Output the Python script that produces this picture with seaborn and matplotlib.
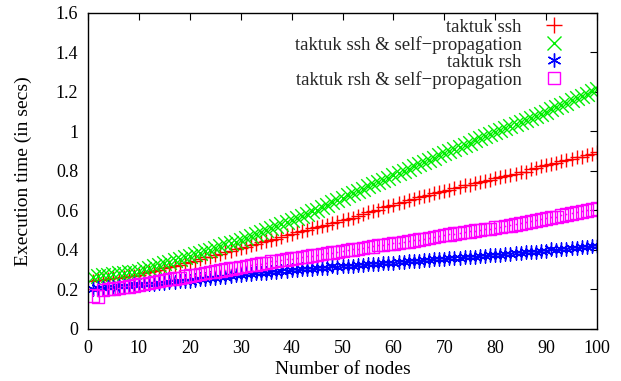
import matplotlib
matplotlib.use("Agg")
import matplotlib.pyplot as plt
import pandas as pd
import seaborn as sns
from matplotlib.lines import Line2D
from matplotlib.ticker import FuncFormatter

nodes = list(range(1, 101))

ssh = [0.245, 0.248, 0.250, 0.253, 0.257, 0.259, 0.262, 0.266, 0.270, 0.275,
       0.281, 0.287, 0.294, 0.300, 0.307, 0.313, 0.320, 0.326, 0.333, 0.340,
       0.346, 0.354, 0.366, 0.367, 0.375, 0.382, 0.388, 0.396, 0.403, 0.410,
       0.417, 0.424, 0.432, 0.439, 0.446, 0.453, 0.457, 0.468, 0.475, 0.482,
       0.490, 0.496, 0.503, 0.509, 0.516, 0.523, 0.529, 0.536, 0.543, 0.550,
       0.558, 0.561, 0.574, 0.582, 0.590, 0.597, 0.605, 0.617, 0.621, 0.629,
       0.637, 0.645, 0.652, 0.659, 0.666, 0.673, 0.680, 0.687, 0.694, 0.700,
       0.706, 0.713, 0.719, 0.729, 0.731, 0.737, 0.744, 0.750, 0.756, 0.762,
       0.768, 0.774, 0.780, 0.787, 0.794, 0.797, 0.808, 0.816, 0.823, 0.830,
       0.836, 0.843, 0.853, 0.856, 0.862, 0.869, 0.872, 0.882, 0.888, 0.895]

ssh_self = [0.265, 0.268, 0.272, 0.275, 0.278, 0.281, 0.285, 0.288, 0.291, 0.295,
            0.302, 0.310, 0.317, 0.322, 0.332, 0.340, 0.347, 0.355, 0.362, 0.370,
            0.378, 0.386, 0.394, 0.402, 0.410, 0.418, 0.430, 0.434, 0.442, 0.450,
            0.460, 0.470, 0.480, 0.490, 0.500, 0.510, 0.520, 0.530, 0.540, 0.550,
            0.560, 0.572, 0.583, 0.595, 0.604, 0.618, 0.630, 0.642, 0.653, 0.665,
            0.676, 0.688, 0.699, 0.711, 0.722, 0.733, 0.745, 0.756, 0.767, 0.779,
            0.790, 0.801, 0.812, 0.823, 0.834, 0.848, 0.857, 0.868, 0.879, 0.890,
            0.901, 0.912, 0.922, 0.933, 0.944, 0.955, 0.965, 0.976, 0.987, 0.998,
            1.008, 1.019, 1.030, 1.040, 1.050, 1.060, 1.070, 1.077, 1.090, 1.100,
            1.112, 1.123, 1.135, 1.146, 1.158, 1.169, 1.181, 1.192, 1.204, 1.215]

rsh = [0.205, 0.207, 0.209, 0.211, 0.213, 0.216, 0.218, 0.220, 0.226, 0.224,
       0.226, 0.228, 0.230, 0.232, 0.235, 0.237, 0.239, 0.241, 0.243, 0.245,
       0.248, 0.251, 0.254, 0.257, 0.260, 0.263, 0.262, 0.269, 0.272, 0.275,
       0.277, 0.280, 0.282, 0.284, 0.286, 0.289, 0.291, 0.293, 0.296, 0.298,
       0.300, 0.302, 0.304, 0.306, 0.308, 0.310, 0.311, 0.317, 0.315, 0.317,
       0.319, 0.321, 0.323, 0.325, 0.327, 0.329, 0.330, 0.332, 0.334, 0.336,
       0.338, 0.340, 0.342, 0.344, 0.346, 0.348, 0.350, 0.352, 0.354, 0.356,
       0.358, 0.360, 0.358, 0.364, 0.366, 0.367, 0.369, 0.371, 0.373, 0.375,
       0.377, 0.379, 0.380, 0.383, 0.385, 0.388, 0.390, 0.392, 0.395, 0.397,
       0.403, 0.402, 0.404, 0.406, 0.409, 0.411, 0.413, 0.416, 0.418, 0.420]

rsh_self = [0.170, 0.165, 0.197, 0.202, 0.205, 0.209, 0.212, 0.216, 0.220, 0.225,
            0.229, 0.234, 0.238, 0.243, 0.247, 0.252, 0.256, 0.258, 0.265, 0.270,
            0.274, 0.279, 0.283, 0.288, 0.292, 0.297, 0.301, 0.306, 0.310, 0.315,
            0.319, 0.323, 0.327, 0.331, 0.335, 0.342, 0.343, 0.348, 0.352, 0.356,
            0.360, 0.364, 0.368, 0.372, 0.376, 0.380, 0.384, 0.387, 0.391, 0.395,
            0.399, 0.403, 0.406, 0.410, 0.414, 0.418, 0.424, 0.425, 0.429, 0.433,
            0.436, 0.440, 0.444, 0.449, 0.453, 0.457, 0.462, 0.466, 0.471, 0.475,
            0.479, 0.483, 0.487, 0.490, 0.494, 0.498, 0.502, 0.506, 0.507, 0.513,
            0.517, 0.521, 0.525, 0.530, 0.535, 0.540, 0.545, 0.550, 0.555, 0.560,
            0.565, 0.566, 0.575, 0.580, 0.585, 0.590, 0.595, 0.600, 0.605, 0.610]

series_names = ["taktuk ssh", "taktuk ssh & self\u2212propagation",
                "taktuk rsh", "taktuk rsh & self\u2212propagation"]
x_ticks = [0, 10, 20, 30, 40, 50, 60, 70, 80, 90, 100]
y_ticks = [0, 0.2, 0.4, 0.6, 0.8, 1.0, 1.2, 1.4, 1.6]

sns.set_theme(style="white")
plt.rcParams["font.family"] = ["Liberation Serif", "DejaVu Serif"]
plt.rcParams["axes.unicode_minus"] = True

frames = []
for name, vals in zip(series_names, [ssh, ssh_self, rsh, rsh_self]):
    frames.append(pd.DataFrame({"nodes": nodes, "time": vals, "series": name}))
df = pd.concat(frames, ignore_index=True)

fig = plt.figure(figsize=(6.21, 3.81), dpi=100)
ax = fig.add_axes([0.1417, 0.1365, 0.8197, 0.8294])

styles = {
    series_names[0]: dict(marker="+", color="#ff0000", s=110, linewidth=1.0),
    series_names[1]: dict(marker="x", color="#00ee00", s=110, linewidth=1.0),
    series_names[2]: dict(marker=(6, 2, 0), color="#0000ff", s=90, linewidth=1.0),
    series_names[3]: dict(marker="s", facecolor="none", edgecolor="#ff00ff", s=80, linewidth=1.0),
}

for name in series_names:
    sub = df[df["series"] == name]
    st = styles[name]
    sns.scatterplot(data=sub, x="nodes", y="time", ax=ax, legend=False, **st)
    if name == series_names[3]:
        sns.scatterplot(data=sub, x="nodes", y="time", ax=ax, legend=False,
                        marker="o", color="#ff00ff", s=1.5, linewidth=0)

ax.set_xlim(0, 100)
ax.set_ylim(0, 1.6)
ax.set_xticks(x_ticks)
ax.set_yticks(y_ticks)
fmt = FuncFormatter(lambda v, p: "{:g}".format(round(v, 2)))
ax.xaxis.set_major_formatter(fmt)
ax.yaxis.set_major_formatter(fmt)
ax.tick_params(direction="in", length=5, width=0.8, top=True, right=True,
               labelsize=13, colors="black")
ax.tick_params(axis="x", pad=8)
ax.tick_params(axis="y", pad=7)
for sp in ax.spines.values():
    sp.set_visible(True)
    sp.set_color("black")
    sp.set_linewidth(1.0)
ax.set_xlabel("Number of nodes", fontsize=14, color="black", labelpad=3)
ax.set_ylabel("Execution time (in secs)", fontsize=14, color="black", labelpad=17)
ax.grid(False)

handles = [
    Line2D([], [], linestyle="none", marker="+", color="#ff0000", markersize=11, markeredgewidth=1.0),
    Line2D([], [], linestyle="none", marker="x", color="#00ee00", markersize=10, markeredgewidth=1.0),
    Line2D([], [], linestyle="none", marker=(6, 2, 0), color="#0000ff", markersize=10, markeredgewidth=1.0),
    Line2D([], [], linestyle="none", marker="s", markerfacecolor="none", markeredgecolor="#ff00ff",
           markersize=8, markeredgewidth=1.0),
]
leg = ax.legend(handles, series_names, loc="upper right", bbox_to_anchor=(0.957, 1.005),
                frameon=False, markerfirst=False, fontsize=13.5, handlelength=1.5,
                handletextpad=0.95, labelspacing=0.0, borderaxespad=0.0)
try:
    for col in leg._legend_handle_box.get_children():
        col.align = "right"
except Exception:
    pass

fig.savefig("out.png", dpi=100)
